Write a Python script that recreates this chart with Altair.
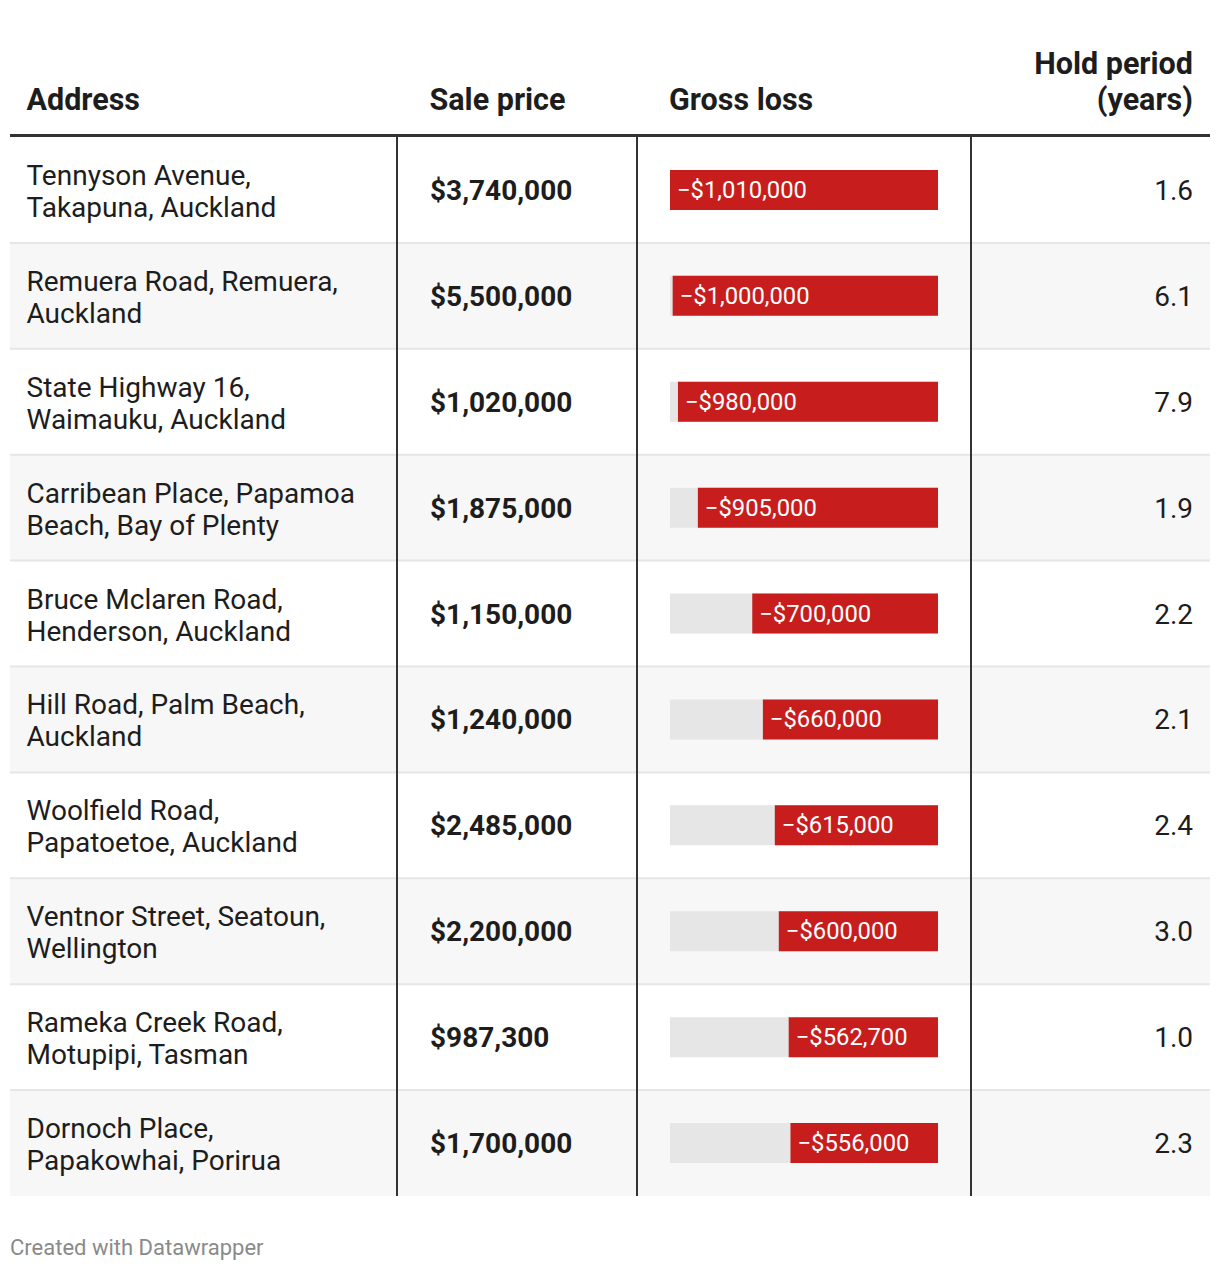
import altair as alt
import pandas as pd

# ---- data ----
addresses = [
    "Tennyson Avenue,\nTakapuna, Auckland",
    "Remuera Road, Remuera,\nAuckland",
    "State Highway 16,\nWaimauku, Auckland",
    "Carribean Place, Papamoa\nBeach, Bay of Plenty",
    "Bruce Mclaren Road,\nHenderson, Auckland",
    "Hill Road, Palm Beach,\nAuckland",
    "Woolfield Road,\nPapatoetoe, Auckland",
    "Ventnor Street, Seatoun,\nWellington",
    "Rameka Creek Road,\nMotupipi, Tasman",
    "Dornoch Place,\nPapakowhai, Porirua",
]
sale_prices = [3740000, 5500000, 1020000, 1875000, 1150000, 1240000, 2485000, 2200000, 987300, 1700000]
gross_losses = [1010000, 1000000, 980000, 905000, 700000, 660000, 615000, 600000, 562700, 556000]
hold_years = [1.6, 6.1, 7.9, 1.9, 2.2, 2.1, 2.4, 3.0, 1.0, 2.3]
headers = ["Address", "Sale price", "Gross loss", "Hold period\n(years)"]
footer = "Created with Datawrapper"

df = pd.DataFrame({
    "row": list(range(len(addresses))),
    "address": addresses,
    "price": sale_prices,
    "loss": gross_losses,
    "hold": hold_years,
})
one = pd.DataFrame({"k": [0]})

FONT = "Roboto"
TXT = "#1d1d1d"
RED = "#c71e1d"
n = len(addresses)
BODY = 28

Y = alt.Scale(domain=[-0.5, n - 0.5], range=[129, 1188], zero=False, nice=False, padding=0)
XL = alt.Scale(domain=[0, max(gross_losses)], range=[930, 662], zero=False, nice=False, padding=0)

base = alt.Chart(df)

stripes = base.transform_filter("datum.row % 2 == 1").transform_calculate(
    y0="datum.row - 0.5", y1="datum.row + 0.5"
).mark_rect(color="#f7f7f7").encode(
    x=alt.value(2), x2=alt.value(1202),
    y=alt.Y("y0:Q", scale=Y, axis=None), y2="y1:Q",
)

seps = base.transform_filter(f"datum.row < {n - 1}").transform_calculate(
    ys="datum.row + 0.5"
).mark_rule(color="#e6e6e6", strokeWidth=2).encode(
    x=alt.value(2), x2=alt.value(1202),
    y=alt.Y("ys:Q", scale=Y, axis=None),
)

def vline(xpos):
    return alt.Chart(one).mark_rule(color="#333333", strokeWidth=2).encode(
        x=alt.value(xpos), y=alt.value(128), y2=alt.value(1188)
    )

header_line = alt.Chart(one).mark_rule(color="#333333", strokeWidth=3).encode(
    x=alt.value(2), x2=alt.value(1202), y=alt.value(127.5)
)

addr_text = base.mark_text(
    align="left", baseline="middle", font=FONT, fontSize=BODY, color=TXT,
    lineBreak="\n", lineHeight=32, dy=-13,
).encode(
    x=alt.value(18.5), y=alt.Y("row:Q", scale=Y, axis=None), text="address:N"
)

price_text = base.transform_calculate(
    lab="'$' + format(datum.price, ',')"
).mark_text(
    align="left", baseline="middle", font=FONT, fontSize=BODY, fontWeight="bold", color=TXT, dy=2,
).encode(
    x=alt.value(422), y=alt.Y("row:Q", scale=Y, axis=None), text="lab:N"
)

bg_bar = base.transform_joinaggregate(maxloss="max(loss)").transform_calculate(
    zero="0"
).mark_bar(color="#e6e6e6", size=40, orient="horizontal").encode(
    x=alt.X("maxloss:Q", scale=XL, axis=None), x2="zero:Q",
    y=alt.Y("row:Q", scale=Y, axis=None),
)

red_bar = base.transform_calculate(zero="0").mark_bar(
    color=RED, size=40, orient="horizontal"
).encode(
    x=alt.X("loss:Q", scale=XL, axis=None), x2="zero:Q",
    y=alt.Y("row:Q", scale=Y, axis=None),
)

loss_text = base.transform_calculate(
    lab="'\u2212$' + format(datum.loss, ',')"
).mark_text(
    align="left", baseline="middle", font=FONT, fontSize=23.8, color="white", dx=7, dy=1,
).encode(
    x=alt.X("loss:Q", scale=XL, axis=None), y=alt.Y("row:Q", scale=Y, axis=None), text="lab:N"
)

hold_text = base.transform_calculate(
    lab="format(datum.hold, '.1f')"
).mark_text(
    align="right", baseline="middle", font=FONT, fontSize=BODY, color=TXT, dy=2,
).encode(
    x=alt.value(1185), y=alt.Y("row:Q", scale=Y, axis=None), text="lab:N"
)

def head(label, xpos, align):
    nlines = label.count("\n")
    return alt.Chart(one).mark_text(
        align=align, baseline="alphabetic", font=FONT, fontSize=30.5, fontWeight="bold",
        color=TXT, lineBreak="\n", lineHeight=36,
    ).encode(x=alt.value(xpos), y=alt.value(102 - 36 * nlines), text=alt.value(label))

foot = alt.Chart(one).mark_text(
    align="left", baseline="middle", font=FONT, fontSize=22, color="#8a8a8a"
).encode(x=alt.value(2), y=alt.value(1240), text=alt.value(footer))

chart = alt.layer(
    stripes, seps, bg_bar, red_bar, loss_text, addr_text, price_text, hold_text,
    vline(389), vline(629), vline(963), header_line,
    head(headers[0], 18.5, "left"), head(headers[1], 421.5, "left"),
    head(headers[2], 661, "left"), head(headers[3], 1185, "right"),
    foot,
).properties(
    width=1204, height=1256, padding=0,
    autosize=alt.AutoSizeParams(type="none"),
).configure_view(stroke=None)

chart.save("out.html", embed_options={"renderer": "svg", "actions": False})
